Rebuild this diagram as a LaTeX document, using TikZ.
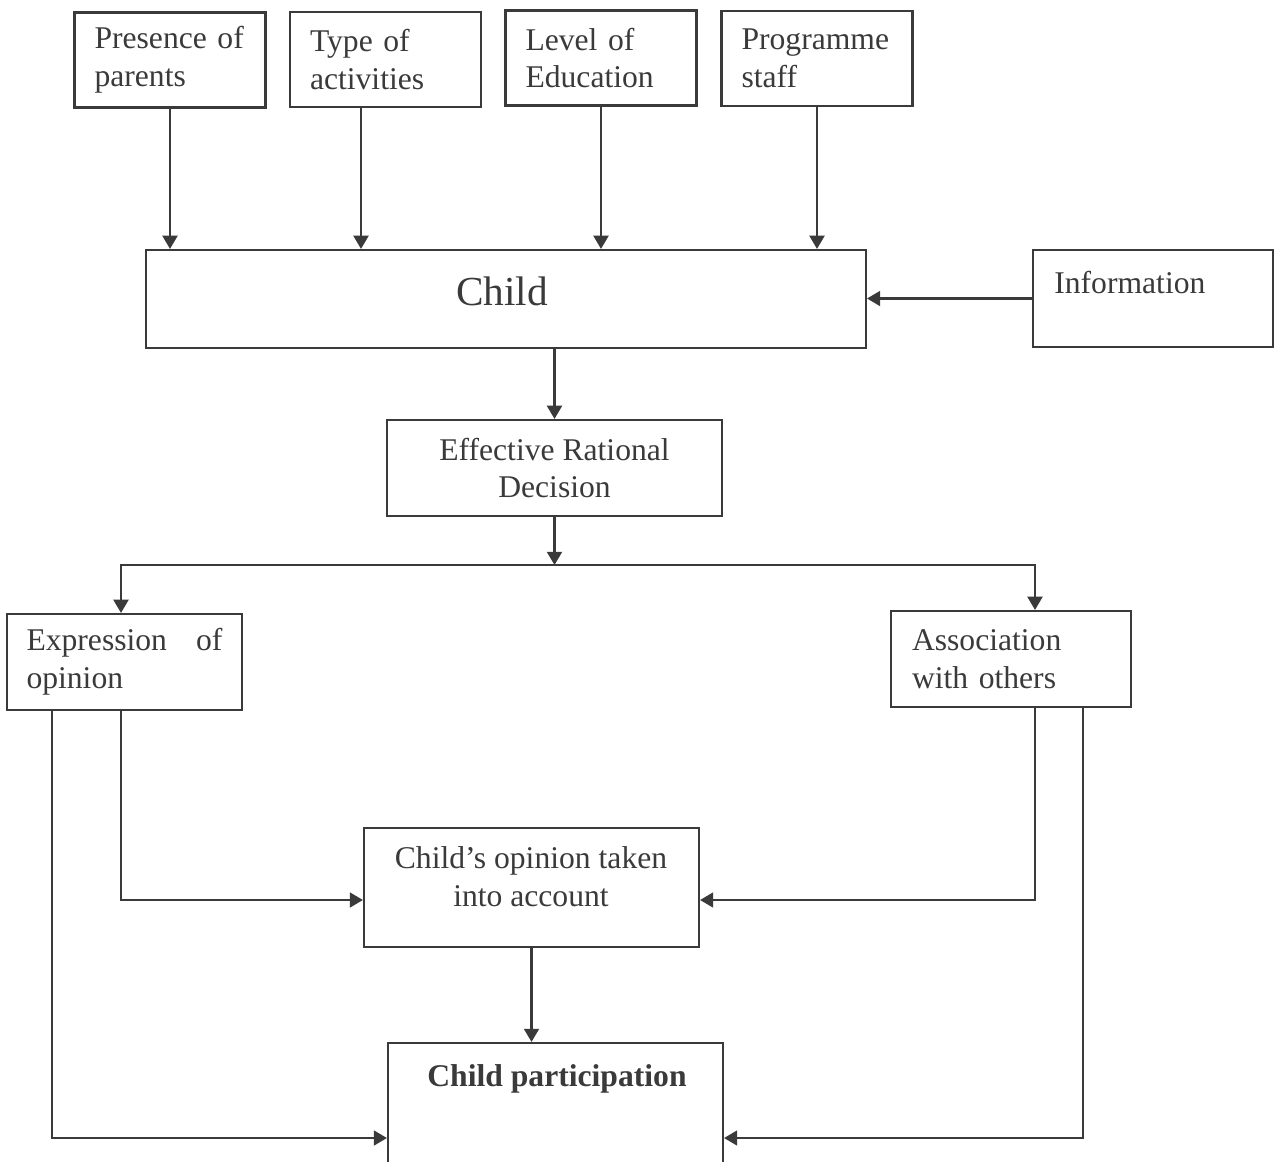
\documentclass[tikz,border=0pt]{standalone}
\usepackage{fontspec}
\setmainfont{Liberation Serif}
\usetikzlibrary{arrows.meta, calc}
\definecolor{ink}{HTML}{3A3A3A}
\tikzset{
    box/.style={draw=ink, line width=1.25pt, inner sep=0pt, text=ink, font=\fontsize{18}{21.6}\selectfont},
    topbox/.style={box, minimum width=3.82cm, minimum height=1.9cm, text width=3.02cm, align=left},
    flow/.style={draw=ink, line width=1.25pt, -{Triangle[length=7.5pt, width=8.5pt]}},
    lbl/.style={inner sep=0pt, text=ink, font=\fontsize{18}{21.6}\selectfont},
}

\begin{document}
\begin{tikzpicture}[x=0.02cm, y=-0.02cm]
    \useasboundingbox (0,0) rectangle (1282,1161);
    \clip (0,0) rectangle (1282,1161);

    % influences on the child
    \node[topbox] (pres) at (170,60) {Presence of\\parents};
    \node[topbox] (type) at (385.5,59.5) {Type of\\activities};
    \node[topbox] (level) at (601,58) {Level of\\Education};
    \node[topbox] (staff) at (817,58.5) {Programme\\staff};

    \node[box, minimum width=14.4cm, minimum height=1.96cm] (child) at (506,299) {};
    \node[lbl, font=\fontsize{23.5}{28}\selectfont, anchor=base] (child-t) at (502,305) {Child};

    \node[box, minimum width=4.8cm, minimum height=1.94cm] (info) at (1153,298.5) {};
    \node[lbl, anchor=base west] (info-t) at (1054,293) {Information};

    \node[box, minimum width=6.7cm, minimum height=1.92cm, align=center] (erd) at (554.5,468) {Effective Rational\\Decision};
    \coordinate (split) at (554.5,565);

    % the two outcomes
    \node[box, minimum width=4.7cm, minimum height=1.92cm, text width=3.92cm, align=left] (expr) at (124.5,662) {Expression\hfill of\\opinion};
    \node[box, minimum width=4.8cm, minimum height=1.92cm, text width=3.96cm, align=left] (assoc) at (1011,659) {Association\\with others};

    \node[box, minimum width=6.7cm, minimum height=2.38cm] (opin) at (531.5,887.5) {};
    \node[lbl, align=center] (opin-t) at (531,877) {Child’s opinion taken\\into account};

    \node[box, minimum width=6.7cm, minimum height=3.8cm] (part) at (555.5,1138) {};
    \node[lbl, font=\fontsize{18}{21.6}\selectfont\bfseries, anchor=base] (part-t) at (557,1086) {Child participation};

    \draw[flow] (pres.south) -- (pres.south |- child.north);
    \draw[flow] ([xshift=-0.49cm]type.south) -- ([xshift=-0.49cm]type.south |- child.north);
    \draw[flow] (level.south) -- (level.south |- child.north);
    \draw[flow] (staff.south) -- (staff.south |- child.north);
    \draw[flow] (info.west) -- (info.west -| child.east);

    \draw[flow] (erd.north |- child.south) -- (erd.north);
    \draw[flow] (erd.south) -- (split);
    \draw[flow] (split) -| ([xshift=-0.07cm]expr.north);
    \draw[flow] (split) -| ([xshift=0.48cm]assoc.north);

    \draw[flow] ([xshift=-0.07cm]expr.south) |- ([yshift=-0.25cm]opin.west);
    \draw[flow] ([xshift=0.48cm]assoc.south) |- ([yshift=-0.25cm]opin.east);
    \draw[flow] ([xshift=-1.45cm]expr.south) |- (part.west);
    \draw[flow] ([xshift=1.44cm]assoc.south) |- (part.east);
    \draw[flow] (opin.south) -- (opin.south |- part.north);
\end{tikzpicture}
\end{document}
